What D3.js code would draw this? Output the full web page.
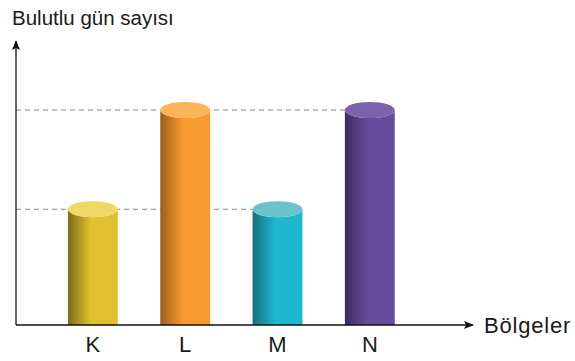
<!DOCTYPE html>
<html>
<head>
<meta charset="utf-8">
<script src="https://cdn.jsdelivr.net/npm/d3@7"></script>
<style>
  html, body { margin: 0; padding: 0; background: #fff; }
  svg { display: block; font-family: "Liberation Sans", Arial, Helvetica, sans-serif; }
</style>
</head>
<body>
<svg id="chart" width="575" height="361"></svg>
<script>
// Regions and their number of cloudy days
const regions = ["K", "L", "M", "N"];
const cloudyDays = [7, 13, 7, 13];
const guideLevels = [7, 13];
const bodyColors = ["#e0c02c", "#f79a30", "#1db8cd", "#654c9c"];
const topColors = ["#f0d868", "#fcb457", "#6ac3cb", "#7c62ad"];
const shadeColors = ["#7d6a1c", "#9a5e1c", "#176f7c", "#3a2c60"];

const svg = d3.select("#chart");
const originX = 16, baseY = 325;

const x = d3.scaleBand()
  .domain(regions)
  .range([25.5, 437.2])
  .paddingInner(0.46)
  .paddingOuter(0.46);

const y = d3.scaleLinear()
  .domain([0, 13])
  .range([baseY, 110]);

const defs = svg.append("defs");
regions.forEach((r, i) => {
  const g = defs.append("linearGradient")
    .attr("id", "grad" + i)
    .attr("x1", "0%").attr("x2", "100%").attr("y1", "0%").attr("y2", "0%");
  g.append("stop").attr("offset", "0%").attr("stop-color", shadeColors[i]);
  g.append("stop").attr("offset", "45%").attr("stop-color", bodyColors[i]);
  g.append("stop").attr("offset", "100%").attr("stop-color", bodyColors[i]);
});
defs.append("marker")
  .attr("id", "arrow")
  .attr("viewBox", "0 0 10 10")
  .attr("refX", 9).attr("refY", 5)
  .attr("markerWidth", 10).attr("markerHeight", 10)
  .attr("markerUnits", "userSpaceOnUse")
  .attr("orient", "auto")
  .append("path")
  .attr("d", "M0,1 L10,5 L0,9 L2,5 Z")
  .attr("fill", "#111");

// Dashed guide lines from the vertical axis to the bars
svg.append("g").selectAll("line")
  .data(guideLevels)
  .join("line")
  .attr("x1", originX)
  .attr("x2", v => d3.max(regions.filter((r, i) => cloudyDays[i] === v), r => x(r)))
  .attr("y1", v => y(v))
  .attr("y2", v => y(v))
  .attr("stroke", "#8a8a8a")
  .attr("stroke-width", 1.1)
  .attr("stroke-dasharray", "5,4");

// Cylindrical bars
const ry = 8;
const bars = svg.append("g").selectAll("g")
  .data(regions.map((r, i) => ({ r, v: cloudyDays[i], i })))
  .join("g");

bars.append("path")
  .attr("d", d => {
    const x0 = x(d.r), w = x.bandwidth(), top = y(d.v);
    return `M${x0},${baseY} L${x0},${top} A${w / 2},${ry} 0 0 0 ${x0 + w},${top} L${x0 + w},${baseY} Z`;
  })
  .attr("fill", d => `url(#grad${d.i})`);

bars.append("ellipse")
  .attr("cx", d => x(d.r) + x.bandwidth() / 2)
  .attr("cy", d => y(d.v))
  .attr("rx", x.bandwidth() / 2)
  .attr("ry", ry)
  .attr("fill", d => topColors[d.i]);

// Axes with arrow heads
svg.append("line")
  .attr("x1", originX).attr("y1", baseY)
  .attr("x2", 473).attr("y2", baseY)
  .attr("stroke", "#111").attr("stroke-width", 1.3)
  .attr("marker-end", "url(#arrow)");
svg.append("line")
  .attr("x1", originX).attr("y1", baseY)
  .attr("x2", originX).attr("y2", 41)
  .attr("stroke", "#111").attr("stroke-width", 1.3)
  .attr("marker-end", "url(#arrow)");

// Category labels
const xAxis = d3.axisBottom(x).tickSize(0).tickPadding(0);
const gx = svg.append("g")
  .attr("transform", `translate(0,${baseY})`)
  .call(xAxis);
gx.select(".domain").remove();
gx.selectAll("text")
  .attr("y", 27)
  .attr("dy", 0)
  .attr("font-size", 22)
  .attr("font-family", "Liberation Sans, Arial, sans-serif")
  .attr("fill", "#1a1a1a");

// Axis titles
svg.append("text")
  .attr("x", 12).attr("y", 25)
  .attr("font-size", 20.5)
  .attr("fill", "#1a1a1a")
  .text("Bulutlu gün sayısı");
svg.append("text")
  .attr("x", 484).attr("y", 333)
  .attr("font-size", 22)
  .attr("letter-spacing", 0.8)
  .attr("fill", "#1a1a1a")
  .text("Bölgeler");
</script>
</body>
</html>
